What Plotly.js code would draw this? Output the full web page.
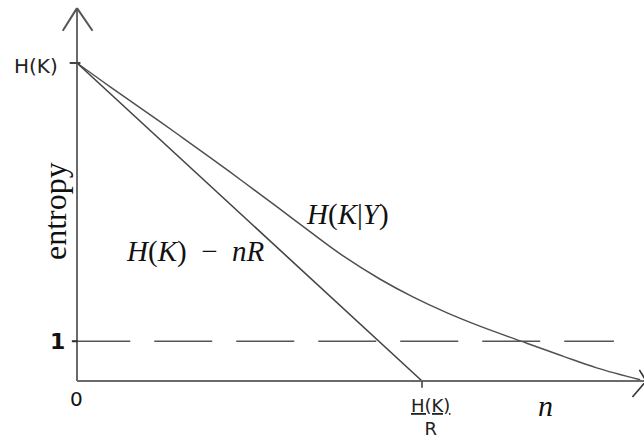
<!DOCTYPE html>
<html>
<head>
<meta charset="utf-8">
<script src="https://cdn.plot.ly/plotly-3.0.1.min.js"></script>
<style>html,body{margin:0;padding:0;background:#fff;}#chart{width:644px;height:440px;}</style>
</head>
<body>
<div id="chart"></div>
<script>
// ---- data ----
var HK = 8;          // H(K) level
var R = 1;           // rate
var lowerLevel = 1;  // dashed "1" level
var condX = [0, 0.77, 1.55, 2.32, 3.09, 3.87, 4.64, 5.41, 6.18, 7.03, 7.80, 8.57, 9.34, 10.43, 11.28, 12.05, 13.06];
var condY = [8.0, 7.40, 6.81, 6.22, 5.62, 5.00, 4.38, 3.75, 3.14, 2.56, 2.11, 1.72, 1.38, 0.95, 0.62, 0.33, 0.03];
var lineX = [0, HK / R];
var lineY = [HK, 0];
var dashX = [-0.11, 12.45];
var dashY = [lowerLevel, lowerLevel];

// ---- pixel mapping (layout only) ----
var W = 644, H = 440, ox = 77, oy = 381, sx = 43.125, sy = 39.75;
var xr = [(0 - ox) / sx, (W - ox) / sx];
var yr = [(oy - H) / sy, oy / sy];
function px(x) { return x / W; }
function py(y) { return 1 - y / H; }

var ink = '#505050';
var traces = [
  {x: condX, y: condY, mode: 'lines', line: {color: ink, width: 1.5, shape: 'spline', smoothing: 1}, hoverinfo: 'skip'},
  {x: lineX, y: lineY, mode: 'lines', line: {color: '#444', width: 1.6}, hoverinfo: 'skip'},
  {x: dashX, y: dashY, mode: 'lines', line: {color: '#555', width: 1.4, dash: '58px,24px'}, hoverinfo: 'skip'}
];

var axColor = '#6a6a6a';
var shapes = [
  // y axis with arrow
  {type: 'line', xref: 'x', yref: 'y', x0: 0, y0: 0, x1: 0, y1: 9.38, line: {color: axColor, width: 2}},
  {type: 'line', xref: 'x', yref: 'y', x0: 0, y0: 9.38, x1: -0.33, y1: 8.81, line: {color: '#555', width: 2}},
  {type: 'line', xref: 'x', yref: 'y', x0: 0, y0: 9.38, x1: 0.36, y1: 8.81, line: {color: '#555', width: 2}},
  // x axis with arrow
  {type: 'line', xref: 'x', yref: 'y', x0: 0, y0: 0, x1: 13.2, y1: 0, line: {color: axColor, width: 2}},
  {type: 'line', xref: 'x', yref: 'y', x0: 13.2, y0: 0, x1: 12.88, y1: -0.40, line: {color: '#333', width: 1.6}},
  {type: 'line', xref: 'x', yref: 'y', x0: 13.2, y0: 0, x1: 13.04, y1: 0.28, line: {color: '#333', width: 1.6}},
  // ticks
  {type: 'line', xref: 'x', yref: 'y', x0: -0.17, y0: HK, x1: 0.08, y1: HK, line: {color: '#444', width: 2}},
  {type: 'line', xref: 'x', yref: 'y', x0: -0.12, y0: lowerLevel, x1: 0.02, y1: lowerLevel, line: {color: '#333', width: 2}},
  {type: 'line', xref: 'x', yref: 'y', x0: HK / R, y0: 0, x1: HK / R, y1: -0.17, line: {color: '#444', width: 1.6}}
];

var serif = 'Liberation Serif, DejaVu Serif, serif';
var hand = 'DejaVu Sans, Liberation Sans, sans-serif';
function ann(x, y, text, font, extra) {
  var a = {x: px(x), y: py(y), xref: 'paper', yref: 'paper', xanchor: 'center', yanchor: 'middle',
           text: text, showarrow: false, font: font};
  if (extra) { for (var k in extra) a[k] = extra[k]; }
  return a;
}
var annotations = [
  ann(36, 66, 'H(K)', {family: hand, size: 20, color: '#222'}),
  ann(57, 341, '<b>1</b>', {family: hand, size: 22, color: '#111'}),
  ann(76, 399, '0', {family: hand, size: 20, color: '#111'}),
  ann(430, 417, '<u>H(K)</u><br>R', {family: hand, size: 18, color: '#222'}),
  ann(545, 405, '<i>n</i>', {family: serif, size: 30, color: '#111'}),
  ann(55, 211, 'entropy', {family: serif, size: 32, color: '#111'}, {textangle: -90}),
  ann(347, 214, '<i>H</i>(<i>K</i>|<i>Y</i>)', {family: serif, size: 29, color: '#111'}),
  ann(195, 251, '<i>H</i>(<i>K</i>)\u2002−\u2002<i>nR</i>', {family: serif, size: 29, color: '#111'})
];

var layout = {
  width: W, height: H,
  margin: {l: 0, r: 0, t: 0, b: 0},
  paper_bgcolor: '#fff', plot_bgcolor: '#fff',
  showlegend: false,
  xaxis: {range: xr, visible: false, fixedrange: true},
  yaxis: {range: yr, visible: false, fixedrange: true},
  shapes: shapes,
  annotations: annotations
};
Plotly.newPlot('chart', traces, layout, {staticPlot: true, displayModeBar: false});
</script>
</body>
</html>
